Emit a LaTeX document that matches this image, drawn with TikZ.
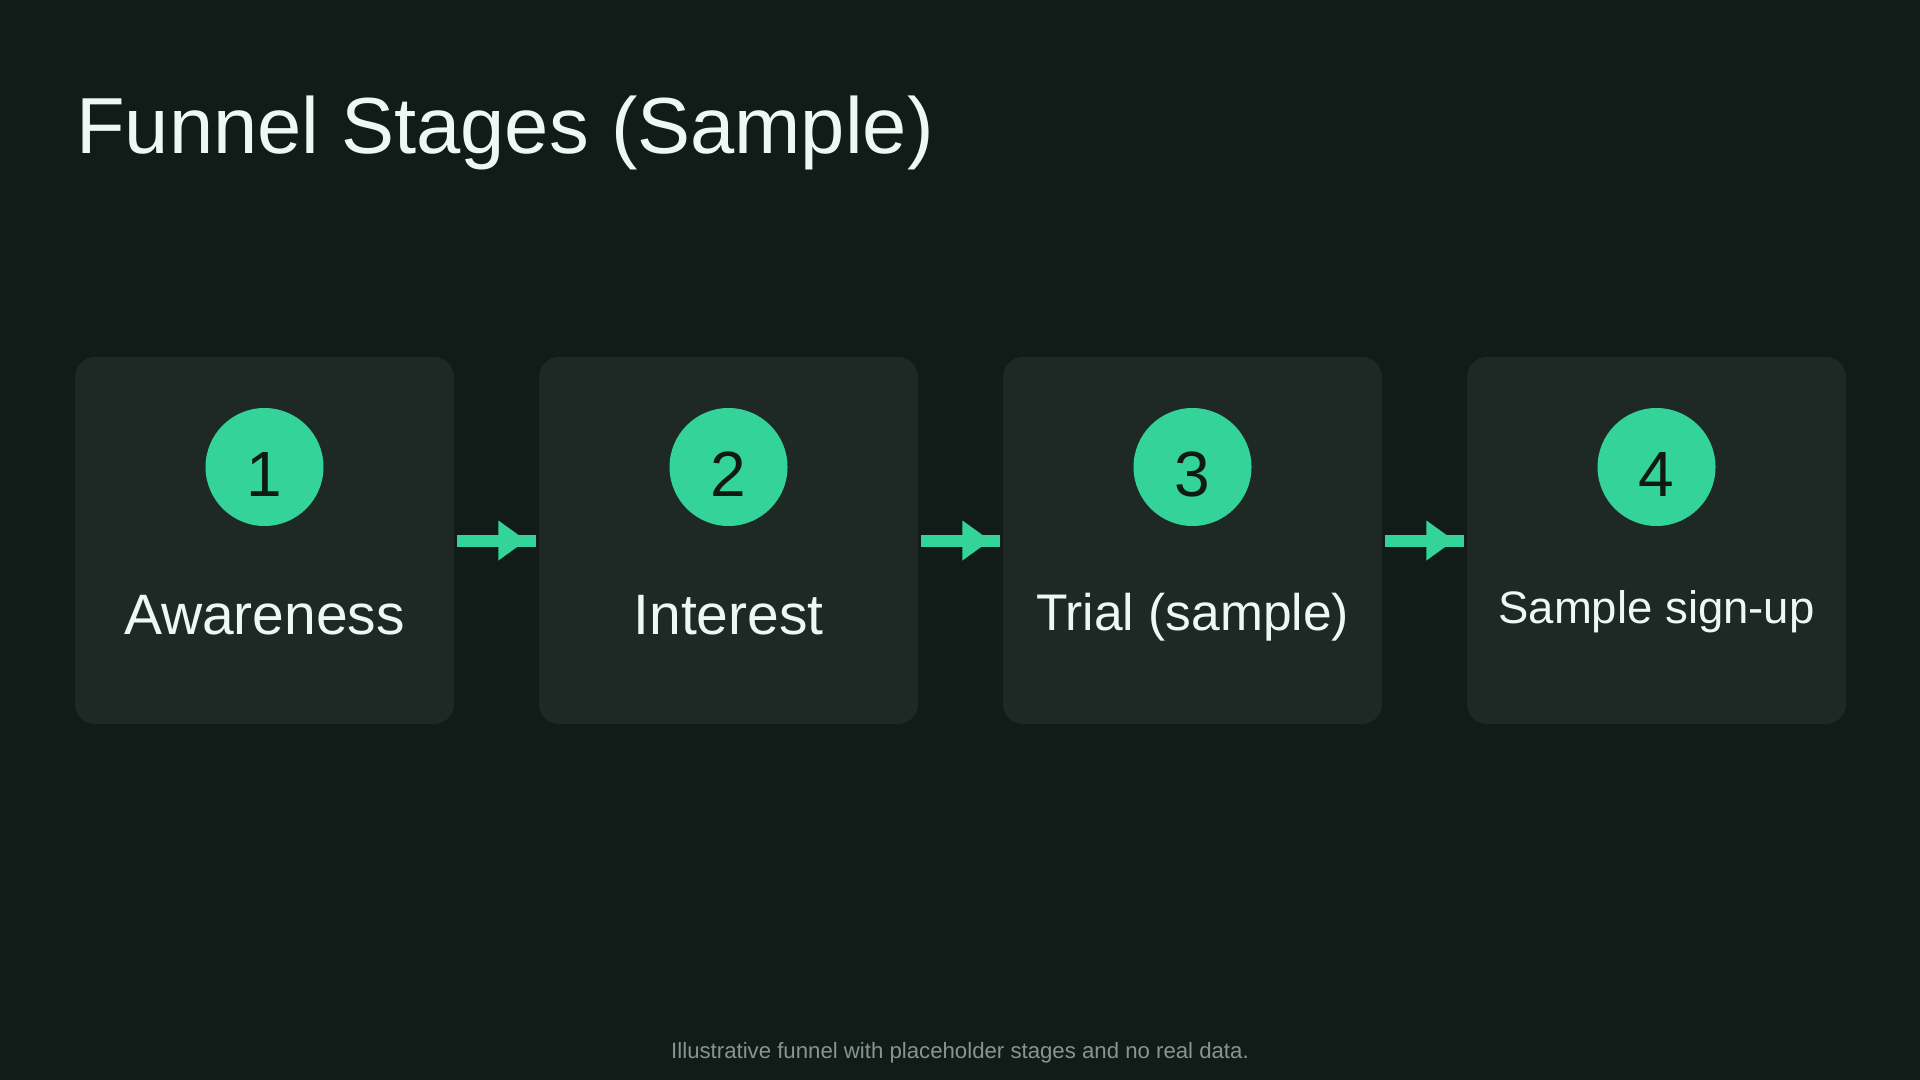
\documentclass[tikz,border=0pt]{standalone}
\usepackage{fontspec}
\setmainfont{Liberation Sans}
\usetikzlibrary{arrows.meta,decorations.markings}

\definecolor{bgdark}{HTML}{111C19}
\definecolor{boxfill}{HTML}{1E2926}
\definecolor{mint}{HTML}{34D399}
\definecolor{paletext}{HTML}{EEF7F3}
\definecolor{digitdark}{HTML}{0F1A17}
\definecolor{notegrey}{HTML}{86968F}

\begin{document}
\begin{tikzpicture}[x=0.5pt, y=-0.5pt,
    stage/.style={rectangle, rounded corners=10pt, fill=boxfill, minimum width=189.5pt, minimum height=183.5pt, inner sep=0pt},
    badge/.style={circle, fill=mint, minimum size=59pt, inner sep=0pt},
    digit/.style={text=digitdark, font=\fontsize{32pt}{38pt}\selectfont, inner sep=0pt, anchor=base},
    label/.style={text=paletext, inner sep=0pt, anchor=base},
    flow/.style={mint, line width=6pt, shorten <=1.5pt, shorten >=1.5pt, postaction={decorate},
        decoration={markings, mark=at position 36pt with {\arrow{Triangle[length=14pt, width=19pt]}}}}]

    % Background and frame
    \useasboundingbox[fill=bgdark] (0,0) rectangle (1920,1080);

    % Title
    \node[text=paletext, font=\fontsize{39.75pt}{47pt}\selectfont, inner sep=0pt, anchor=base west] (title) at (76,154) {Funnel Stages (Sample)};

    % Draw the stage boxes
    \node[stage] (b1) at (264.5,540.5) {};
    \node[stage] (b2) at (728.5,540.5) {};
    \node[stage] (b3) at (1192.5,540.5) {};
    \node[stage] (b4) at (1656.5,540.5) {};

    % Draw the numbered badges
    \node[badge] (c1) at (264.5,467) {};
    \node[badge] (c2) at (728.5,467) {};
    \node[badge] (c3) at (1192.5,467) {};
    \node[badge] (c4) at (1656.5,467) {};
    \node[digit] (n1) at (264.5,496) {1};
    \node[digit] (n2) at (728.5,496) {2};
    \node[digit] (n3) at (1192.5,496) {3};
    \node[digit] (n4) at (1656.5,496) {4};

    % Draw the stage names
    \node[label, font=\fontsize{28.5pt}{34pt}\selectfont] (l1) at (264.5,634) {Awareness};
    \node[label, font=\fontsize{28.5pt}{34pt}\selectfont] (l2) at (728.5,634) {Interest};
    \node[label, font=\fontsize{25.75pt}{31pt}\selectfont] (l3) at (1192.5,630) {Trial (sample)};
    \node[label, font=\fontsize{22.75pt}{27pt}\selectfont] (l4) at (1656.5,623) {Sample sign-up};

    % Draw arrows between stages
    \draw[flow] (b1.east) -- (b2.west);
    \draw[flow] (b2.east) -- (b3.west);
    \draw[flow] (b3.east) -- (b4.west);

    % Footnote
    \node[text=notegrey, font=\fontsize{11.1pt}{13pt}\selectfont, inner sep=0pt, anchor=base] (note) at (960,1058) {Illustrative funnel with placeholder stages and no real data.};

\end{tikzpicture}
\end{document}
